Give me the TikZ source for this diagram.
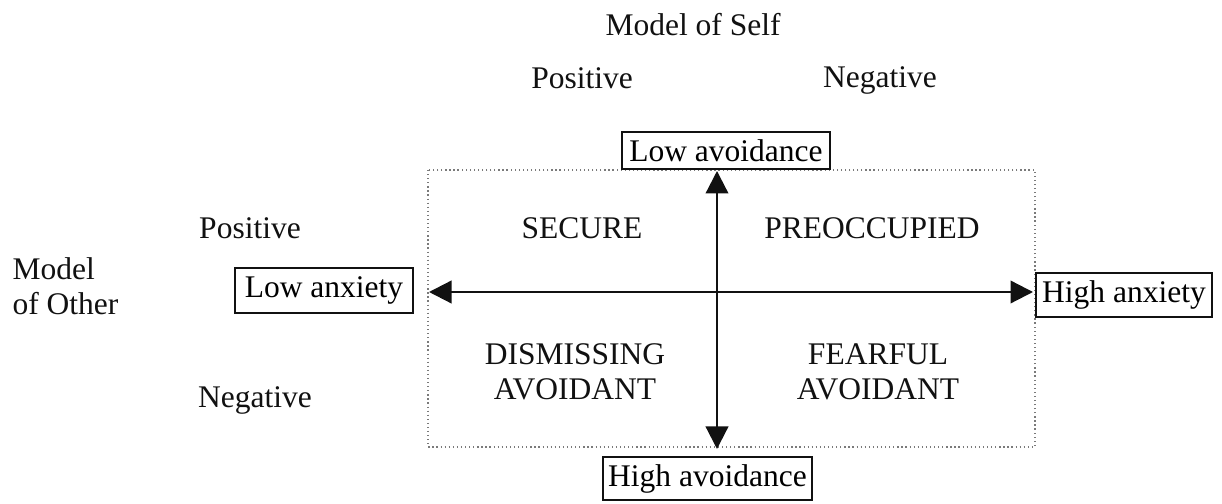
\documentclass[tikz,border=0pt]{standalone}
\usepackage{fontspec}
\setmainfont{Liberation Serif}
\usepackage{tikz}
\usetikzlibrary{
  arrows.meta,
  positioning,
  calc
}
\definecolor{atInk}{HTML}{111111}
\definecolor{atMute}{HTML}{7A7A7A}
\tikzset{
  atlabel/.style={font=\fontsize{11.2}{12.6}\selectfont, text=atInk, align=center, inner sep=0pt},
  atbox/.style={
    draw=atInk, line width=0.8pt, font=\fontsize{11.2}{12.6}\selectfont,
    inner sep=1pt, align=center
  },
  quadrant/.style={draw=atMute, densely dotted, line width=0.45pt},
  axis/.style={{Triangle[length=8pt, width=8pt]}-{Triangle[length=8pt, width=8pt]}, line width=0.8pt, atInk}
}

\begin{document}
\begin{tikzpicture}[x=0.0125cm, y=-0.0125cm]
  \useasboundingbox (0,0) rectangle (1222,504);
  % quadrant frame
  \draw[quadrant] (428,170) rectangle (1035,447);
  % headings
  \node[atlabel] (self) at (693,25) {Model of Self};
  \node[atlabel] (selfpos) at (582,78) {Positive};
  \node[atlabel] (selfneg) at (880,80) {Negative};
  \node[atlabel, align=left, anchor=west] (other) at (12,286) {Model\\of Other};
  \node[atlabel] (othpos) at (250,228) {Positive};
  \node[atlabel] (othneg) at (255,400) {Negative};
  % quadrant names
  \node[atlabel] (secure) at (582,228) {SECURE};
  \node[atlabel] (preocc) at (872,228) {PREOCCUPIED};
  \node[atlabel] (dismiss) at (575,372) {DISMISSING\\AVOIDANT};
  \node[atlabel] (fearful) at (878,372) {FEARFUL\\AVOIDANT};
  % dimension ends
  \node[atbox, minimum width=2.6cm, minimum height=0.46cm] (lowav) at (726,150.5) {Low avoidance};
  \node[atbox, minimum width=2.61cm, minimum height=0.54cm] (highav) at (707.5,478.5) {High avoidance};
  \node[atbox, minimum width=2.22cm, minimum height=0.56cm] (lowanx) at (324,290.5) {Low anxiety};
  \node[atbox, minimum width=2.2cm, minimum height=0.55cm] (highanx) at (1124,295) {High anxiety};
  % axes
  \coordinate (vtop) at (717,171);
  \coordinate (vbot) at (717,449);
  \coordinate (hleft) at (429,292);
  \coordinate (hright) at (1033,292);
  \draw[axis] (vbot) -- (vtop);
  \draw[axis] (hleft) -- (hright);
\end{tikzpicture}
\end{document}
